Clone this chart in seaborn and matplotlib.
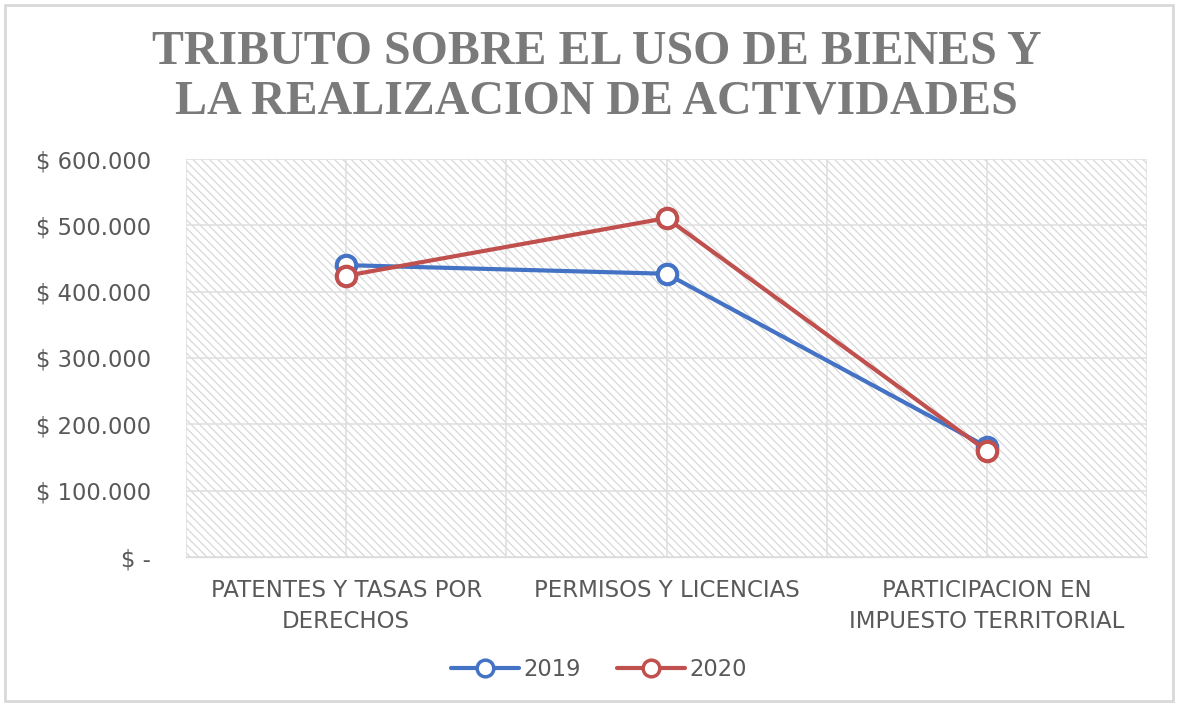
import matplotlib
matplotlib.use("Agg")
import matplotlib.pyplot as plt
import seaborn as sns
import pandas as pd
from matplotlib.patches import Rectangle
from matplotlib.lines import Line2D
from matplotlib.ticker import FuncFormatter

# data
categories = ["PATENTES Y TASAS POR\nDERECHOS", "PERMISOS Y LICENCIAS",
              "PARTICIPACION EN\nIMPUESTO TERRITORIAL"]
values_2019 = [440000, 427000, 166000]
values_2020 = [424000, 511000, 160000]
series = ["2019", "2020"]
colors = {"2019": "#4472C4", "2020": "#C0504D"}

df = pd.DataFrame({
    "categoria": categories * 2,
    "valor": values_2019 + values_2020,
    "serie": ["2019"] * 3 + ["2020"] * 3,
})

sns.set_style("white")
plt.rcParams["font.family"] = ["DejaVu Sans"]
plt.rcParams["hatch.linewidth"] = 0.8
plt.rcParams["hatch.color"] = "#d0d0d0"

fig = plt.figure(figsize=(11.79, 7.04), dpi=100)
ax = fig.add_axes([186 / 1179, 1 - 557 / 704, 961 / 1179, 398 / 704])

# outer chart border
fig.patches.append(Rectangle((5 / 1179, 3 / 704), 1168 / 1179, 696 / 704,
                             transform=fig.transFigure, fill=False,
                             edgecolor="#d9d9d9", linewidth=2))

# hatched plot area
ax.add_patch(Rectangle((0, 0), 1, 1, transform=ax.transAxes, facecolor="white",
                       hatch="\\\\\\\\", edgecolor="#d4d4d4", linewidth=0, zorder=0))

sns.lineplot(data=df, x="categoria", y="valor", hue="serie", palette=colors,
             sort=False, marker="o", markersize=14, markerfacecolor="white",
             markeredgewidth=3, linewidth=3, legend=False, ax=ax, zorder=3)
for ln, s in zip(ax.lines, series):
    ln.set_markeredgecolor(colors[s])

ax.set_xlim(-0.5, 2.5)
ax.set_ylim(0, 600000)
ax.set_yticks(range(0, 600001, 100000))
ax.yaxis.set_major_formatter(FuncFormatter(
    lambda v, p: "$ -" if v == 0 else "$ " + f"{int(v):,}".replace(",", ".")))
ax.set_xticks([-0.5, 0, 0.5, 1, 1.5, 2, 2.5])
ax.set_xticklabels(["", categories[0], "", categories[1], "", categories[2], ""],
                   linespacing=1.45)
ax.tick_params(axis="both", length=0, labelcolor="#595959")
ax.tick_params(axis="x", pad=16, labelsize=16.5)
ax.tick_params(axis="y", pad=25, labelsize=16.3)
ax.grid(True, color="#e0e0e0", linewidth=1.2, zorder=1)
ax.set_axisbelow(True)
for sp in ax.spines.values():
    sp.set_visible(False)
ax.spines["bottom"].set_visible(True)
ax.spines["bottom"].set_color("#d9d9d9")
ax.set_xlabel("")
ax.set_ylabel("")

fig.text(0.506, 1 - 52 / 704, "TRIBUTO SOBRE EL USO DE BIENES Y", ha="center", va="center",
         fontsize=34.5, fontweight="bold", color="#7a7a7a", family="Liberation Serif")
fig.text(0.506, 1 - 102 / 704, "LA REALIZACION DE ACTIVIDADES", ha="center", va="center",
         fontsize=34.5, fontweight="bold", color="#7a7a7a", family="Liberation Serif")

handles = [Line2D([], [], color=colors[s], linewidth=3, marker="o", markersize=12,
                  markerfacecolor="white", markeredgewidth=2.5) for s in series]
fig.legend(handles, series, loc="center", bbox_to_anchor=(0.508, 1 - 669 / 704), ncol=2,
           frameon=False, fontsize=16.3, labelcolor="#595959", handlelength=3.0,
           handletextpad=0.2, columnspacing=1.6)

fig.savefig("out.png", dpi=100)
